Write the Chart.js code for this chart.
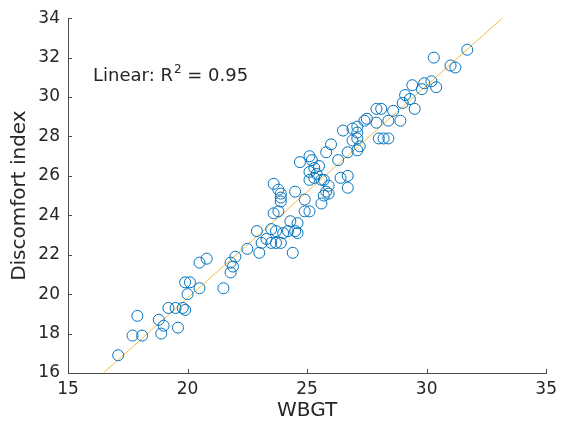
<!DOCTYPE html>
<html>
<head>
<meta charset="utf-8">
<script src="https://cdn.jsdelivr.net/npm/chart.js@4.4.1/dist/chart.umd.min.js"></script>
<style>
  html, body { margin: 0; padding: 0; background: #fff; }
  #wrap { width: 563px; height: 425px; position: relative; }
</style>
</head>
<body>
<div id="wrap"><canvas id="myChart"></canvas></div>
<script>
"use strict";

// data
const wbgt = [
  17.1, 17.7, 18.1, 17.9, 18.9, 18.8, 19.0, 19.6, 19.2, 19.5,
  19.8, 19.9, 20.0, 19.9, 20.1, 20.5, 20.5, 20.8, 21.5, 21.8,
  22.0, 21.9, 21.8, 22.5, 23.0, 22.9, 23.1, 23.3, 23.5, 23.7,
  23.7, 23.5, 23.6, 23.8, 23.9, 23.9, 23.9, 23.6, 23.8, 24.5,
  24.3, 24.2, 24.5, 24.6, 24.6, 24.4, 24.9, 24.9, 25.1, 25.1,
  25.3, 26.0, 25.8, 26.7, 27.1, 26.3, 24.7, 25.1, 25.2, 25.3,
  25.5, 25.1, 25.4, 25.6, 25.7, 26.4, 26.7, 26.7, 25.9, 25.8,
  25.9, 25.7, 25.6, 26.5, 26.9, 27.1, 27.4, 27.5, 26.9, 27.9,
  28.0, 28.2, 28.4, 28.4, 27.9, 28.1, 28.6, 28.9, 29.1, 29.3,
  29.0, 29.5, 29.4, 29.9, 30.2, 30.4, 29.8, 30.3, 31.0, 31.2,
  31.7, 27.1, 27.2, 27.1, 23.9, 24.0,
];
const discomfort = [
  16.9, 17.9, 17.9, 18.9, 18.0, 18.7, 18.4, 18.3, 19.3, 19.3,
  19.3, 19.2, 20.0, 20.6, 20.6, 20.3, 21.6, 21.8, 20.3, 21.6,
  21.9, 21.4, 21.1, 22.3, 22.1, 23.2, 22.6, 22.8, 23.3, 23.2,
  22.6, 22.6, 24.1, 24.2, 24.9, 24.7, 25.1, 25.6, 25.3, 25.2,
  23.7, 23.2, 23.2, 23.6, 23.1, 22.1, 24.8, 24.2, 24.2, 25.8,
  25.9, 27.6, 27.2, 27.2, 27.3, 26.8, 26.7, 27.0, 26.8, 26.4,
  26.5, 26.2, 26.1, 25.8, 25.8, 25.9, 26.0, 25.4, 25.5, 25.2,
  25.1, 25.0, 24.6, 28.3, 28.4, 28.2, 28.8, 28.9, 27.8, 28.7,
  27.9, 27.9, 27.9, 28.8, 29.4, 29.4, 29.3, 28.8, 30.1, 29.9,
  29.7, 29.4, 30.6, 30.7, 30.8, 30.5, 30.4, 32.0, 31.6, 31.5,
  32.4, 27.9, 27.5, 28.5, 22.6, 23.1,
];

// least squares line as drawn, clipped to the axes box
const fitSlope = 1.0785;
const fitIntercept = -1.77;
const fitRange = [16.48, 33.17];
const r2Label = "0.95";

const xTicks = [15, 20, 25, 30, 35];
const yTicks = [16, 18, 20, 22, 24, 26, 28, 30, 32, 34];

const textColor = "#262626";
const axisColor = "#4d4d4d";
const fontFamily = "'DejaVu Sans', sans-serif";

let scatterPoints = [];
for (let i in wbgt) {
  scatterPoints.push({ x: wbgt[i], y: discomfort[i] });
}
let fitPoints = fitRange.map(function (x) {
  return { x: x, y: fitSlope * x + fitIntercept };
});

// MATLAB style: ticks point into the plot, plus the R^2 note
const innerTicks = {
  id: "innerTicks",
  afterDraw(chart) {
    const ctx = chart.ctx;
    const area = chart.chartArea;
    const xs = chart.scales.x;
    const ys = chart.scales.y;
    ctx.save();
    ctx.strokeStyle = axisColor;
    ctx.lineWidth = 1;
    ctx.beginPath();
    for (let t of xTicks) {
      let px = Math.round(xs.getPixelForValue(t)) + 0.5;
      ctx.moveTo(px, area.bottom);
      ctx.lineTo(px, area.bottom - 4);
    }
    for (let t of yTicks) {
      let py = Math.round(ys.getPixelForValue(t)) + 0.5;
      ctx.moveTo(area.left, py);
      ctx.lineTo(area.left + 4, py);
    }
    ctx.stroke();

    ctx.fillStyle = textColor;
    ctx.textBaseline = "alphabetic";
    let x0 = 93;
    let base = 81;
    ctx.font = "18px " + fontFamily;
    let head = "Linear: R";
    ctx.fillText(head, x0, base);
    x0 += ctx.measureText(head).width + 1;
    ctx.font = "12px " + fontFamily;
    ctx.fillText("2", x0, base - 8);
    x0 += ctx.measureText("2").width;
    ctx.font = "18px " + fontFamily;
    ctx.fillText(" = " + r2Label, x0, base);
    ctx.restore();
  },
};

const ctx = document.getElementById("myChart").getContext("2d");
const myChart = new Chart(ctx, {
  type: "scatter",
  data: {
    datasets: [
      {
        label: "Data",
        data: scatterPoints,
        showLine: false,
        pointStyle: "circle",
        pointRadius: 5.5,
        borderColor: "#0072BD",
        backgroundColor: "rgba(0,0,0,0)",
        borderWidth: 1,
      },
      {
        label: "Fit",
        data: fitPoints,
        showLine: true,
        pointRadius: 0,
        borderColor: "rgba(237,177,32,0.85)",
        borderWidth: 1,
        fill: false,
      },
    ],
  },
  options: {
    responsive: true,
    maintainAspectRatio: false,
    animation: false,
    layout: { padding: { top: 18, right: 11, left: 0, bottom: 0 } },
    plugins: {
      legend: { display: false },
      tooltip: { enabled: false },
    },
    scales: {
      x: {
        type: "linear",
        min: 15,
        max: 35,
        afterBuildTicks: function (scale) {
          scale.ticks = xTicks.map(function (v) { return { value: v }; });
        },
        afterFit: function (scale) { scale.height = 52; },
        grid: { display: false, drawTicks: false },
        border: { display: true, color: axisColor, width: 1 },
        ticks: {
          color: textColor,
          padding: 6,
          font: { family: fontFamily, size: 17 },
        },
        title: {
          display: true,
          text: "WBGT",
          color: textColor,
          padding: { top: 0, bottom: 2 },
          font: { family: fontFamily, size: 20 },
        },
      },
      y: {
        type: "linear",
        min: 16,
        max: 34,
        afterBuildTicks: function (scale) {
          scale.ticks = yTicks.map(function (v) { return { value: v }; });
        },
        afterFit: function (scale) { scale.width = 68; },
        grid: { display: false, drawTicks: false },
        border: { display: true, color: axisColor, width: 1 },
        ticks: {
          color: textColor,
          padding: 8,
          font: { family: fontFamily, size: 17 },
        },
        title: {
          display: true,
          text: "Discomfort index",
          color: textColor,
          padding: { top: 8, bottom: 0 },
          font: { family: fontFamily, size: 20 },
        },
      },
    },
  },
  plugins: [innerTicks],
});
console.log(myChart);
</script>
</body>
</html>
